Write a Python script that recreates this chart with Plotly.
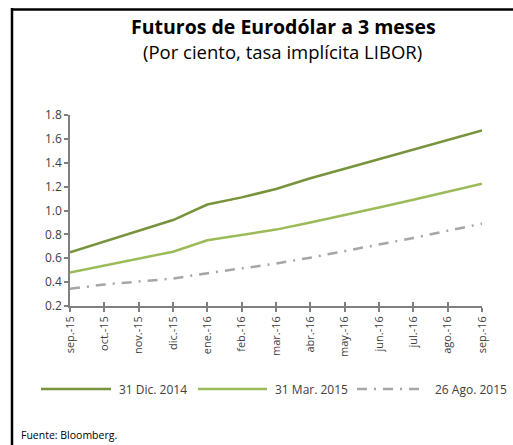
import plotly.graph_objects as go

months = ["sep.-15", "oct.-15", "nov.-15", "dic.-15", "ene.-16", "feb.-16", "mar.-16",
          "abr.-16", "may.-16", "jun.-16", "jul.-16", "ago.-16", "sep.-16"]
dic_2014 = [0.65, 0.74, 0.83, 0.92, 1.05, 1.11, 1.18, 1.27, 1.35, 1.43, 1.51, 1.59, 1.67]
mar_2015 = [0.48, 0.54, 0.60, 0.655, 0.75, 0.795, 0.84, 0.90, 0.96, 1.025, 1.09, 1.16, 1.225]
ago_2015 = [0.345, 0.38, 0.405, 0.43, 0.475, 0.515, 0.555, 0.605, 0.66, 0.71, 0.77, 0.83, 0.89]
series_names = ["31 Dic. 2014", "31 Mar. 2015", "26 Ago. 2015"]
colors = ["#77933C", "#9BBB59", "#A6A6A6"]
dashes = ["solid", "solid", "10px,7px,2px,7px"]
y_ticks = [0.2, 0.4, 0.6, 0.8, 1.0, 1.2, 1.4, 1.6, 1.8]

W, H = 513, 445
ML, MR, MT, MB = 70, 31, 115, 139
PW, PH = W - ML - MR, H - MT - MB


def px(x):
    return (x - ML) / PW


def py(y):
    return (H - MB - y) / PH


fig = go.Figure()
for name, vals, c, d in zip(series_names, [dic_2014, mar_2015, ago_2015], colors, dashes):
    fig.add_trace(go.Scatter(x=months, y=vals, name=name, mode="lines",
                             line=dict(color=c, width=2.5, dash=d), showlegend=False))

font_main = "Open Sans, Noto Sans, sans-serif"
fig.update_layout(
    width=W, height=H,
    margin=dict(l=ML, r=MR, t=MT, b=MB),
    paper_bgcolor="white", plot_bgcolor="white",
    font=dict(family=font_main, color="#404040", size=12),
    xaxis=dict(type="category", range=[0, len(months) - 1], showgrid=False,
               showline=True, linecolor="#808080", linewidth=1.5,
               ticks="outside", ticklen=4, tickcolor="#808080", tickwidth=1.5,
               tickangle=-90, tickfont=dict(size=11, color="#404040")),
    yaxis=dict(range=[0.2, 1.8], tickvals=y_ticks, ticktext=[f"{v:.1f}" for v in y_ticks],
               showgrid=False, zeroline=False, showline=True, linecolor="#808080",
               linewidth=1.5, ticks="outside", ticklen=4, tickcolor="#808080",
               tickwidth=1.5, tickfont=dict(size=12, color="#404040")),
)

# inward tick halves to mimic crossing ticks on the x axis
fig.add_trace(go.Scatter(x=months, y=[None] * len(months), xaxis="x2", showlegend=False,
                         hoverinfo="skip"))
fig.update_layout(xaxis2=dict(type="category", range=[0, len(months) - 1], overlaying="x",
                              anchor="y", side="bottom", showgrid=False, showline=False,
                              ticks="inside", ticklen=4, tickcolor="#808080", tickwidth=1.5,
                              showticklabels=False))

annotations = [
    dict(text="<b>Futuros de Eurodólar a 3 meses</b>", x=px(283), y=py(26), xref="paper",
         yref="paper", showarrow=False, xanchor="center", yanchor="middle",
         font=dict(size=19.5, color="#000000", family=font_main)),
    dict(text="(Por ciento, tasa implícita LIBOR)", x=px(282), y=py(51), xref="paper",
         yref="paper", showarrow=False, xanchor="center", yanchor="middle",
         font=dict(size=18.5, color="#000000", family=font_main)),
    dict(text="Fuente: Bloomberg.", x=px(19), y=py(435), xref="paper", yref="paper",
         showarrow=False, xanchor="left", yanchor="middle",
         font=dict(size=10.5, color="#000000", family=font_main)),
]

shapes = [
    dict(type="line", xref="paper", yref="paper", x0=px(12), x1=px(12), y0=py(8), y1=py(460),
         line=dict(color="black", width=2.5)),
    dict(type="line", xref="paper", yref="paper", x0=px(11), x1=px(520), y0=py(9.5), y1=py(9.5),
         line=dict(color="black", width=2.5)),
]

# manual legend
leg_y = 389
leg_items = [(41, 111, 117), (198, 267, 273), (357, 420, 433)]
for (x0, x1, tx), name, c, d in zip(leg_items, series_names, colors, dashes):
    shapes.append(dict(type="line", xref="paper", yref="paper", x0=px(x0), x1=px(x1),
                       y0=py(leg_y), y1=py(leg_y), line=dict(color=c, width=2.5, dash=d)))
    annotations.append(dict(text=name, x=px(tx), y=py(leg_y), xref="paper", yref="paper",
                            showarrow=False, xanchor="left", yanchor="middle",
                            font=dict(size=12, color="#404040", family=font_main)))

fig.update_layout(annotations=annotations, shapes=shapes)
fig.write_html("out.html", config={"displayModeBar": False},
               post_script="document.body.style.margin='0px';document.body.style.overflow='hidden';")
